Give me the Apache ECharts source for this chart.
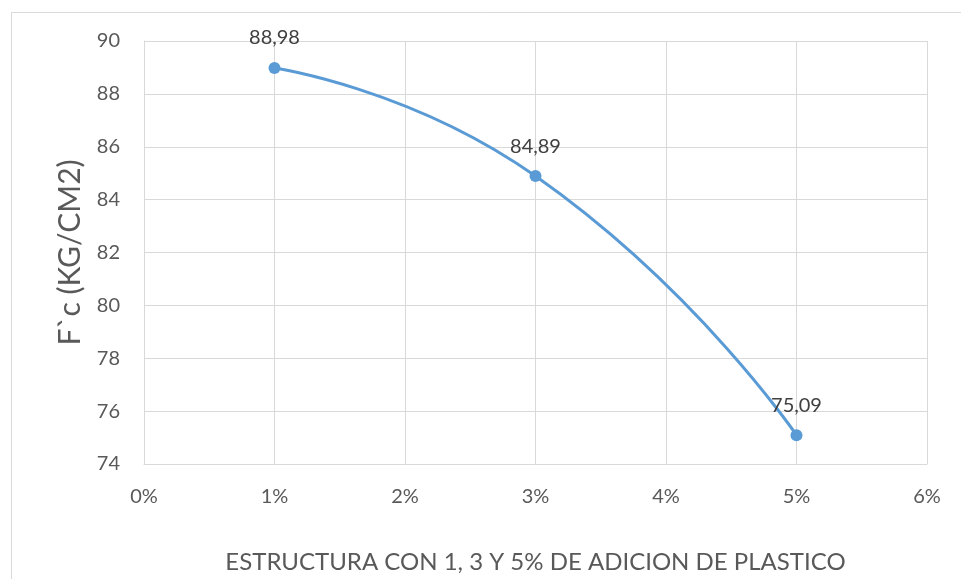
<!DOCTYPE html>
<html>
<head>
<meta charset="utf-8">
<script src="https://cdn.jsdelivr.net/npm/echarts@6/dist/echarts.min.js"></script>
<style>
html,body{margin:0;padding:0;background:#fff;}
#c{width:961px;height:579px;}
</style>
</head>
<body>
<div id="c"></div>
<script>
var xValues = [0.01, 0.03, 0.05];
var yValues = [88.98, 84.89, 75.09];
var xTitle = 'ESTRUCTURA CON 1, 3 Y 5% DE ADICION DE PLASTICO';
var yTitle = 'F`c (KG/CM2)';

var FONT = 'Lato';
var chart = echarts.init(document.getElementById('c'));
chart.setOption({
  animation: false,
  backgroundColor: '#fff',
  graphic: [{
    type: 'rect',
    shape: {x: 11.5, y: 12.5, width: 960, height: 600},
    style: {fill: 'none', stroke: '#d9d9d9', lineWidth: 1},
    silent: true
  }],
  grid: {left: 144, right: 34, top: 41, bottom: 111, containLabel: false},
  xAxis: {
    type: 'value',
    min: 0, max: 0.06, interval: 0.01,
    name: xTitle,
    nameLocation: 'middle',
    nameGap: 86,
    nameTextStyle: {fontFamily: FONT, fontSize: 24, color: '#595959'},
    axisLine: {show: true, lineStyle: {color: '#d9d9d9', width: 1}},
    axisTick: {show: false},
    splitLine: {show: true, lineStyle: {color: '#d9d9d9', width: 1}},
    axisLabel: {
      fontFamily: FONT, fontSize: 20, color: '#595959', margin: 23,
      formatter: function(v){ return Math.round(v*100) + '%'; }
    }
  },
  yAxis: {
    type: 'value',
    min: 74, max: 90, interval: 2,
    name: yTitle,
    nameLocation: 'middle',
    nameGap: 59,
    nameTextStyle: {fontFamily: FONT, fontSize: 30, color: '#595959'},
    axisLine: {show: true, lineStyle: {color: '#d9d9d9', width: 1}},
    axisTick: {show: false},
    splitLine: {show: true, lineStyle: {color: '#d9d9d9', width: 1}},
    axisLabel: {fontFamily: FONT, fontSize: 20, color: '#595959', margin: 24}
  },
  series: [{
    type: 'line',
    data: xValues.map(function(x, i){ return [x, yValues[i]]; }),
    smooth: 0.55,
    symbol: 'circle',
    symbolSize: 12,
    lineStyle: {color: '#5b9bd5', width: 3},
    itemStyle: {color: '#5b9bd5'},
    label: {
      show: true, position: 'top', distance: 14,
      fontFamily: FONT, fontSize: 20, color: '#404040',
      formatter: function(p){ return p.value[1].toFixed(2).replace('.', ','); }
    }
  }]
});
</script>
</body>
</html>
